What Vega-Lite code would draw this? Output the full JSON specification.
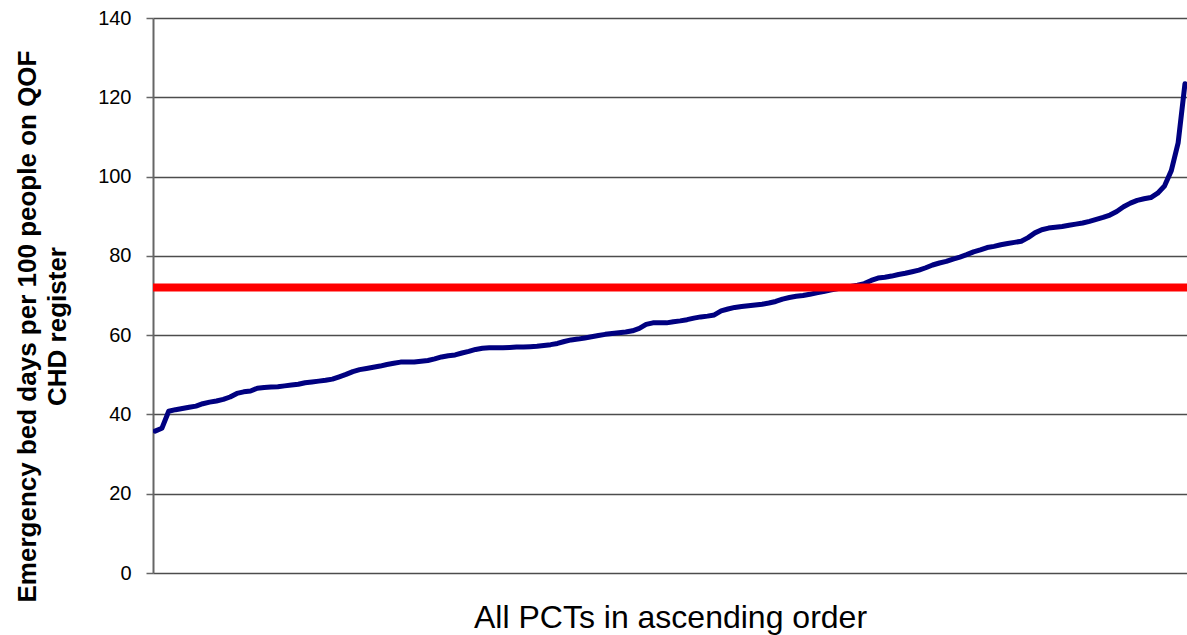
{
  "$schema": "https://vega.github.io/schema/vega-lite/v6.json",
  "autosize": "none",
  "width": 1034,
  "height": 555,
  "padding": {"left": 153, "top": 18, "right": 0, "bottom": 62},
  "background": "white",
  "config": {
    "view": {"stroke": null},
    "font": "Liberation Sans",
    "axis": {"labelFont": "Liberation Sans", "titleFont": "Liberation Sans"}
  },
  "datasets": {
    "pcts": [
      {"rank": 1, "value": 35.8}, {"rank": 2, "value": 36.5}, {"rank": 3, "value": 40.8}, {"rank": 4, "value": 41.2},
      {"rank": 5, "value": 41.5}, {"rank": 6, "value": 41.8}, {"rank": 7, "value": 42.1}, {"rank": 8, "value": 42.7},
      {"rank": 9, "value": 43.1}, {"rank": 10, "value": 43.4}, {"rank": 11, "value": 43.8}, {"rank": 12, "value": 44.4},
      {"rank": 13, "value": 45.3}, {"rank": 14, "value": 45.7}, {"rank": 15, "value": 45.9}, {"rank": 16, "value": 46.6},
      {"rank": 17, "value": 46.8}, {"rank": 18, "value": 46.9}, {"rank": 19, "value": 47.0}, {"rank": 20, "value": 47.2},
      {"rank": 21, "value": 47.4}, {"rank": 22, "value": 47.6}, {"rank": 23, "value": 48.0}, {"rank": 24, "value": 48.2},
      {"rank": 25, "value": 48.4}, {"rank": 26, "value": 48.6}, {"rank": 27, "value": 48.9}, {"rank": 28, "value": 49.5},
      {"rank": 29, "value": 50.1}, {"rank": 30, "value": 50.8}, {"rank": 31, "value": 51.3}, {"rank": 32, "value": 51.6},
      {"rank": 33, "value": 51.9}, {"rank": 34, "value": 52.2}, {"rank": 35, "value": 52.6}, {"rank": 36, "value": 52.9},
      {"rank": 37, "value": 53.2}, {"rank": 38, "value": 53.2}, {"rank": 39, "value": 53.2}, {"rank": 40, "value": 53.4},
      {"rank": 41, "value": 53.6}, {"rank": 42, "value": 54.0}, {"rank": 43, "value": 54.5}, {"rank": 44, "value": 54.8},
      {"rank": 45, "value": 55.0}, {"rank": 46, "value": 55.5}, {"rank": 47, "value": 55.9}, {"rank": 48, "value": 56.4},
      {"rank": 49, "value": 56.7}, {"rank": 50, "value": 56.8}, {"rank": 51, "value": 56.8}, {"rank": 52, "value": 56.8},
      {"rank": 53, "value": 56.9}, {"rank": 54, "value": 57.0}, {"rank": 55, "value": 57.0}, {"rank": 56, "value": 57.1},
      {"rank": 57, "value": 57.2}, {"rank": 58, "value": 57.4}, {"rank": 59, "value": 57.6}, {"rank": 60, "value": 57.9},
      {"rank": 61, "value": 58.4}, {"rank": 62, "value": 58.8}, {"rank": 63, "value": 59.0}, {"rank": 64, "value": 59.3},
      {"rank": 65, "value": 59.6}, {"rank": 66, "value": 59.9}, {"rank": 67, "value": 60.2}, {"rank": 68, "value": 60.4},
      {"rank": 69, "value": 60.6}, {"rank": 70, "value": 60.8}, {"rank": 71, "value": 61.1}, {"rank": 72, "value": 61.7},
      {"rank": 73, "value": 62.7}, {"rank": 74, "value": 63.1}, {"rank": 75, "value": 63.1}, {"rank": 76, "value": 63.1},
      {"rank": 77, "value": 63.4}, {"rank": 78, "value": 63.6}, {"rank": 79, "value": 63.9}, {"rank": 80, "value": 64.3},
      {"rank": 81, "value": 64.6}, {"rank": 82, "value": 64.8}, {"rank": 83, "value": 65.1}, {"rank": 84, "value": 66.1},
      {"rank": 85, "value": 66.6}, {"rank": 86, "value": 67.0}, {"rank": 87, "value": 67.2}, {"rank": 88, "value": 67.4},
      {"rank": 89, "value": 67.6}, {"rank": 90, "value": 67.8}, {"rank": 91, "value": 68.1}, {"rank": 92, "value": 68.5},
      {"rank": 93, "value": 69.1}, {"rank": 94, "value": 69.5}, {"rank": 95, "value": 69.8}, {"rank": 96, "value": 70.0},
      {"rank": 97, "value": 70.3}, {"rank": 98, "value": 70.7}, {"rank": 99, "value": 71.0}, {"rank": 100, "value": 71.4},
      {"rank": 101, "value": 71.7}, {"rank": 102, "value": 72.0}, {"rank": 103, "value": 72.3}, {"rank": 104, "value": 72.6},
      {"rank": 105, "value": 73.0}, {"rank": 106, "value": 73.8}, {"rank": 107, "value": 74.4}, {"rank": 108, "value": 74.6},
      {"rank": 109, "value": 74.9}, {"rank": 110, "value": 75.3}, {"rank": 111, "value": 75.6}, {"rank": 112, "value": 76.0},
      {"rank": 113, "value": 76.4}, {"rank": 114, "value": 77.0}, {"rank": 115, "value": 77.7}, {"rank": 116, "value": 78.2},
      {"rank": 117, "value": 78.6}, {"rank": 118, "value": 79.2}, {"rank": 119, "value": 79.7}, {"rank": 120, "value": 80.3},
      {"rank": 121, "value": 81.0}, {"rank": 122, "value": 81.5}, {"rank": 123, "value": 82.1}, {"rank": 124, "value": 82.4},
      {"rank": 125, "value": 82.8}, {"rank": 126, "value": 83.1}, {"rank": 127, "value": 83.4}, {"rank": 128, "value": 83.7},
      {"rank": 129, "value": 84.6}, {"rank": 130, "value": 85.8}, {"rank": 131, "value": 86.6}, {"rank": 132, "value": 87.0},
      {"rank": 133, "value": 87.2}, {"rank": 134, "value": 87.4}, {"rank": 135, "value": 87.7}, {"rank": 136, "value": 88.0},
      {"rank": 137, "value": 88.3}, {"rank": 138, "value": 88.7}, {"rank": 139, "value": 89.2}, {"rank": 140, "value": 89.7},
      {"rank": 141, "value": 90.3}, {"rank": 142, "value": 91.2}, {"rank": 143, "value": 92.4}, {"rank": 144, "value": 93.3},
      {"rank": 145, "value": 94.0}, {"rank": 146, "value": 94.4}, {"rank": 147, "value": 94.7}, {"rank": 148, "value": 95.8},
      {"rank": 149, "value": 97.6}, {"rank": 150, "value": 101.5}, {"rank": 151, "value": 108.5}, {"rank": 152, "value": 123.4}
    ],
    "target": [{"average": 72}]
  },
  "layer": [
    {
      "data": {"name": "pcts"},
      "mark": {"type": "line", "color": "#000080", "strokeWidth": 5, "strokeJoin": "round", "strokeCap": "round", "clip": true},
      "encoding": {
        "x": {
          "field": "rank", "type": "quantitative",
          "scale": {"domain": [0.7, 152.3], "nice": false, "zero": false},
          "axis": {
            "title": "All PCTs in ascending order",
            "titleFontSize": 32, "titleFontWeight": "normal", "titleColor": "black",
            "titleY": 54, "titleBaseline": "alphabetic",
            "labels": false, "ticks": false, "domain": false, "grid": false
          }
        },
        "y": {
          "field": "value", "type": "quantitative",
          "scale": {"domain": [0, 140], "nice": false},
          "axis": {
            "title": ["Emergency bed days per 100 people on QOF", "CHD register"],
            "titleFontSize": 26, "titleFontWeight": "bold", "titleColor": "black",
            "titleLineHeight": 30, "titleAngle": -90,
            "titleX": -118, "titleY": 308, "titleBaseline": "alphabetic", "titleAlign": "center",
            "values": [0, 20, 40, 60, 80, 100, 120, 140],
            "labelFontSize": 20, "labelColor": "black", "labelPadding": 15,
            "tickSize": 7, "tickColor": "#666666", "tickWidth": 1.5,
            "domainColor": "#666666", "domainWidth": 2,
            "grid": true, "gridColor": "#4d4d4d", "gridWidth": 1.5
          }
        }
      }
    },
    {
      "data": {"name": "target"},
      "mark": {"type": "rule", "color": "#ff0000", "strokeWidth": 8},
      "encoding": {"y": {"field": "average", "type": "quantitative"}}
    }
  ]
}
